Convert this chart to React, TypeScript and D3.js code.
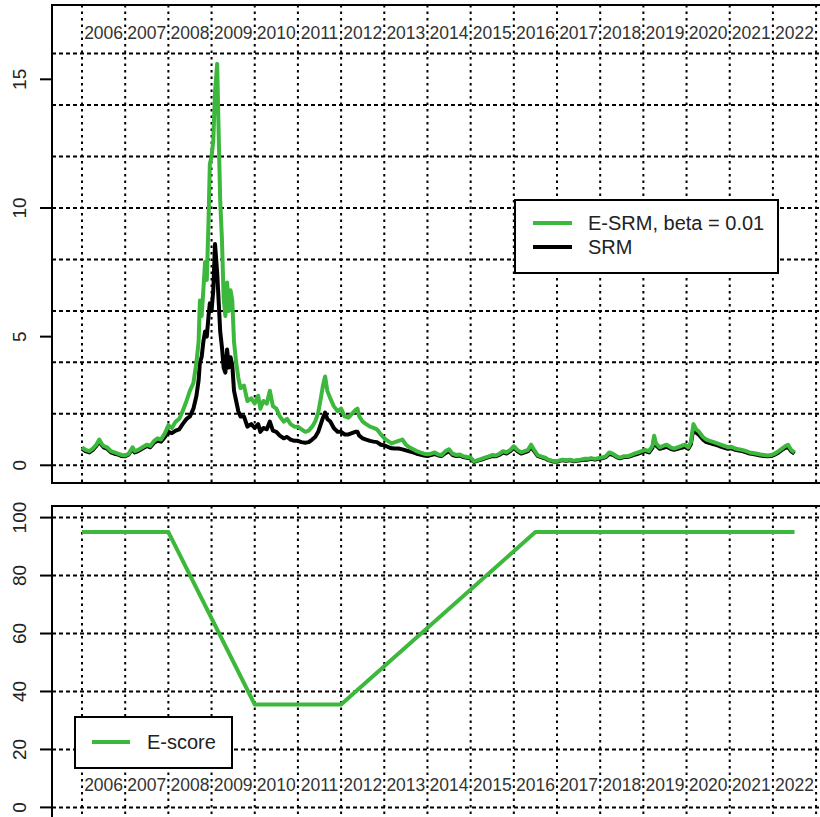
import React from "react";
import * as d3 from "d3";

// ---------- DATA ----------
const yearLabels = ["2006","2007","2008","2009","2010","2011","2012","2013","2014","2015","2016","2017","2018","2019","2020","2021","2022"];
const yearGrid = [2006,2007,2008,2009,2010,2011,2012,2013,2014,2015,2016,2017,2018,2019,2020,2021,2022,2023];
const topTicks = [0, 5, 10, 15];
const topGrid = [0, 2, 4, 6, 8, 10, 12, 14, 16];
const botTicks = [0, 20, 40, 60, 80, 100];

const dates = [
  2006.00,2006.08,2006.17,2006.25,2006.33,2006.40,2006.45,2006.50,2006.58,2006.67,2006.75,2006.83,2006.92,
  2007.00,2007.08,2007.17,2007.22,2007.30,2007.40,2007.50,2007.58,2007.67,2007.75,2007.83,2007.92,
  2008.00,2008.08,2008.17,2008.25,2008.33,2008.42,2008.50,2008.58,2008.65,2008.70,2008.73,2008.77,2008.81,2008.85,2008.89,2008.93,2008.96,
  2009.00,2009.04,2009.08,2009.13,2009.17,2009.20,2009.24,2009.28,2009.32,2009.36,2009.40,2009.44,2009.48,2009.52,2009.57,2009.62,2009.67,2009.75,2009.83,2009.92,
  2010.00,2010.08,2010.13,2010.20,2010.28,2010.35,2010.42,2010.50,2010.58,2010.67,2010.75,2010.83,2010.92,
  2011.00,2011.08,2011.17,2011.25,2011.33,2011.40,2011.47,2011.53,2011.58,2011.63,2011.68,2011.75,2011.83,2011.92,
  2012.00,2012.08,2012.17,2012.25,2012.33,2012.38,2012.42,2012.50,2012.58,2012.67,2012.75,2012.83,2012.92,
  2013.00,2013.08,2013.17,2013.25,2013.33,2013.42,2013.50,2013.58,2013.67,2013.75,2013.83,2013.92,
  2014.00,2014.08,2014.17,2014.25,2014.33,2014.42,2014.50,2014.58,2014.67,2014.75,2014.83,2014.92,
  2015.00,2015.08,2015.17,2015.25,2015.33,2015.42,2015.50,2015.58,2015.67,2015.75,2015.83,2015.92,
  2016.00,2016.08,2016.17,2016.25,2016.33,2016.40,2016.47,2016.55,2016.63,2016.72,2016.80,2016.88,2016.96,
  2017.04,2017.13,2017.21,2017.29,2017.38,2017.46,2017.54,2017.63,2017.71,2017.79,2017.88,2017.96,
  2018.04,2018.13,2018.21,2018.29,2018.38,2018.46,2018.54,2018.63,2018.71,2018.79,2018.88,2018.96,
  2019.04,2019.13,2019.21,2019.25,2019.29,2019.38,2019.46,2019.54,2019.63,2019.71,2019.79,2019.88,2019.96,
  2020.04,2020.10,2020.16,2020.22,2020.29,2020.38,2020.46,2020.54,2020.63,2020.71,2020.79,2020.88,2020.96,
  2021.04,2021.13,2021.21,2021.29,2021.38,2021.46,2021.54,2021.63,2021.71,2021.79,2021.88,2021.96,
  2022.04,2022.13,2022.21,2022.29,2022.35,2022.42,2022.50,
];

const esrmValues = [
  0.70,0.60,0.55,0.65,0.80,1.00,0.85,0.75,0.70,0.55,0.50,0.45,0.40,
  0.38,0.45,0.70,0.55,0.60,0.70,0.80,0.75,0.95,1.05,1.00,1.25,
  1.55,1.45,1.70,1.80,2.10,2.50,2.90,3.20,4.00,4.80,6.40,5.80,6.80,7.90,7.20,9.50,11.7,
  12.0,12.6,14.5,15.6,12.5,10.3,8.8,6.5,5.8,7.1,6.0,6.8,6.4,4.8,4.0,3.4,3.0,3.1,2.5,2.6,
  2.4,2.7,2.2,2.5,2.4,2.9,2.3,2.2,1.9,1.7,1.8,1.6,1.5,
  1.5,1.4,1.3,1.35,1.5,1.7,2.05,2.6,3.1,3.45,2.9,2.6,2.3,2.1,
  2.2,1.9,1.85,2.0,2.15,2.2,1.9,1.7,1.6,1.5,1.45,1.4,1.2,
  1.05,0.95,0.85,0.9,0.95,1.0,0.8,0.7,0.62,0.55,0.5,0.45,
  0.43,0.45,0.5,0.42,0.4,0.55,0.62,0.45,0.4,0.42,0.35,0.32,
  0.3,0.15,0.2,0.25,0.3,0.35,0.4,0.38,0.45,0.55,0.5,0.6,
  0.74,0.6,0.5,0.55,0.6,0.8,0.6,0.4,0.35,0.3,0.22,0.18,0.15,
  0.18,0.22,0.2,0.22,0.18,0.2,0.22,0.25,0.25,0.28,0.25,0.28,
  0.3,0.35,0.5,0.45,0.35,0.3,0.35,0.35,0.4,0.45,0.5,0.55,
  0.6,0.55,0.75,1.15,0.85,0.7,0.75,0.8,0.7,0.65,0.7,0.75,0.8,
  0.7,0.9,1.6,1.4,1.3,1.1,1.0,0.95,0.9,0.85,0.8,0.75,0.7,
  0.72,0.65,0.62,0.6,0.55,0.5,0.48,0.45,0.42,0.4,0.38,0.4,
  0.45,0.55,0.65,0.75,0.8,0.6,0.5,
];

const srmValues = [
  0.65,0.55,0.50,0.60,0.75,0.95,0.80,0.70,0.65,0.50,0.45,0.42,0.36,
  0.35,0.42,0.65,0.50,0.55,0.65,0.75,0.70,0.88,0.95,0.92,1.10,
  1.30,1.25,1.35,1.40,1.60,1.80,1.90,2.20,2.70,3.30,4.00,4.20,4.80,5.20,5.00,5.80,6.30,
  6.0,6.8,8.6,7.5,6.2,5.2,4.6,3.8,3.6,4.5,3.8,4.2,3.9,2.9,2.5,2.1,1.9,1.9,1.5,1.6,
  1.45,1.6,1.3,1.45,1.4,1.7,1.35,1.3,1.15,1.05,1.1,1.0,0.95,
  0.95,0.9,0.88,0.9,1.0,1.1,1.3,1.6,1.85,2.05,1.8,1.7,1.45,1.3,
  1.3,1.2,1.2,1.25,1.3,1.3,1.15,1.05,1.0,0.95,0.92,0.9,0.8,
  0.78,0.72,0.66,0.65,0.65,0.62,0.58,0.54,0.5,0.45,0.42,0.38,
  0.36,0.4,0.44,0.38,0.36,0.48,0.55,0.4,0.36,0.38,0.32,0.29,
  0.27,0.13,0.18,0.22,0.27,0.32,0.36,0.35,0.41,0.5,0.46,0.55,
  0.68,0.55,0.46,0.5,0.55,0.72,0.55,0.37,0.32,0.27,0.2,0.16,0.14,
  0.16,0.2,0.18,0.2,0.16,0.18,0.2,0.22,0.22,0.25,0.22,0.25,
  0.27,0.32,0.45,0.41,0.32,0.27,0.32,0.32,0.36,0.41,0.45,0.5,
  0.55,0.5,0.68,1.05,0.78,0.64,0.68,0.72,0.64,0.6,0.64,0.68,0.72,
  0.64,0.82,1.45,1.28,1.18,1.0,0.9,0.86,0.82,0.78,0.73,0.68,0.64,
  0.66,0.6,0.57,0.55,0.5,0.46,0.44,0.41,0.38,0.36,0.35,0.36,
  0.41,0.5,0.6,0.68,0.72,0.55,0.45,
];

const eScoreDates = [2006.0, 2008.0, 2010.0, 2012.0, 2016.5, 2022.5];
const eScoreValues = [95, 95, 35.5, 35.5, 95, 95];

// ---------- STYLE ----------
const GREEN = "#3cb83c";
const FONT = "'Liberation Sans', Arial, Helvetica, sans-serif";

export default function App() {
  const W = 820, H = 817;
  const L = 52, R = 823;
  const topY0 = 5, topY1 = 483;
  const botY0 = 506, botY1 = 819;

  const x = d3.scaleLinear().domain([2005.305, 2023.16]).range([L, R]);
  const yTop = d3.scaleLinear().domain([-0.688, 17.888]).range([topY1, topY0]);
  const yBot = d3.scaleLinear().domain([-4, 104]).range([botY1, botY0]);

  const n = Math.min(dates.length, esrmValues.length, srmValues.length);
  const idx = d3.range(n);

  const lineTop = (vals: number[]) =>
    d3.line<number>().x((i) => x(dates[i])).y((i) => yTop(vals[i]))(idx) || "";
  const eIdx = d3.range(eScoreDates.length);
  const eLine =
    d3.line<number>().x((i) => x(eScoreDates[i])).y((i) => yBot(eScoreValues[i]))(eIdx) || "";

  const vDash = "2.5,4";
  const hDash = "4,3";

  const panelGrid = (y0: number, y1: number, hVals: number[], ys: (v: number) => number, key: string) => (
    <g key={key}>
      {yearGrid.map((yr) => (
        <line key={"v" + yr} x1={x(yr)} x2={x(yr)} y1={y0} y2={y1} stroke="#000" strokeWidth={2} strokeDasharray={vDash} />
      ))}
      {hVals.map((v) => (
        <line key={"h" + v} x1={L} x2={R} y1={ys(v)} y2={ys(v)} stroke="#000" strokeWidth={2} strokeDasharray={hDash} />
      ))}
    </g>
  );

  const yearText = (yPix: number, key: string) => (
    <g key={key}>
      {yearLabels.map((lab) => (
        <text key={lab} x={x(+lab + 0.5)} y={yPix} textAnchor="middle" fontSize={17.5} fontFamily={FONT} fill="#333">
          {lab}
        </text>
      ))}
    </g>
  );

  const axisTicks = (ticks: number[], ys: (v: number) => number, key: string) => (
    <g key={key}>
      {ticks.map((t) => (
        <g key={t}>
          <line x1={L - 12} x2={L} y1={ys(t)} y2={ys(t)} stroke="#000" strokeWidth={2} />
          <text transform={`translate(26,${ys(t)}) rotate(-90)`} textAnchor="middle" fontSize={19} fontFamily={FONT} fill="#222">
            {t}
          </text>
        </g>
      ))}
    </g>
  );

  return (
    <div style={{ position: "absolute", left: 0, top: 0 }}>
      <svg width={W} height={H} style={{ display: "block", background: "#fff" }}>
        <rect x={0} y={0} width={W} height={H} fill="#fff" />
        {/* TOP PANEL */}
        {panelGrid(topY0, topY1, topGrid, yTop, "gt")}
        {yearText(topY0 + 34, "yt")}
        <path d={lineTop(srmValues)} fill="none" stroke="#000" strokeWidth={4} strokeLinejoin="round" />
        <path d={lineTop(esrmValues)} fill="none" stroke={GREEN} strokeWidth={4} strokeLinejoin="round" />
        <rect x={L} y={topY0} width={R - L} height={topY1 - topY0} fill="none" stroke="#000" strokeWidth={2} />
        {axisTicks(topTicks, yTop, "at")}
        {/* legend top */}
        <g>
          <rect x={515} y={200} width={263} height={73} fill="#fff" stroke="#000" strokeWidth={2} />
          <line x1={533} x2={572} y1={223} y2={223} stroke={GREEN} strokeWidth={4} />
          <line x1={533} x2={572} y1={247} y2={247} stroke="#000" strokeWidth={4} />
          <text x={588} y={230} fontSize={20} fontFamily={FONT} fill="#222">E-SRM, beta = 0.01</text>
          <text x={588} y={254} fontSize={20} fontFamily={FONT} fill="#222">SRM</text>
        </g>

        {/* BOTTOM PANEL */}
        {panelGrid(botY0, botY1, botTicks, yBot, "gb")}
        {yearText(791, "yb")}
        <path d={eLine} fill="none" stroke={GREEN} strokeWidth={4} strokeLinejoin="round" />
        <rect x={L} y={botY0} width={R - L} height={botY1 - botY0} fill="none" stroke="#000" strokeWidth={2} />
        {axisTicks(botTicks, yBot, "ab")}
        <g>
          <rect x={75} y={717} width={157} height={51} fill="#fff" stroke="#000" strokeWidth={2} />
          <line x1={92} x2={130} y1={742} y2={742} stroke={GREEN} strokeWidth={4} />
          <text x={147} y={749} fontSize={20} fontFamily={FONT} fill="#222">E-score</text>
        </g>
      </svg>
    </div>
  );
}
